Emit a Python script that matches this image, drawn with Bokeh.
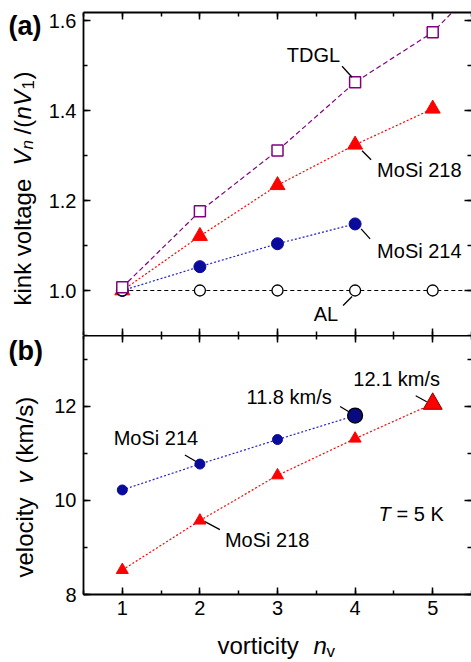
import math
from bokeh.plotting import figure
from bokeh.layouts import column, row
from bokeh.models import (Range1d, LinearAxis, SingleIntervalTicker, PrintfTickFormatter,
                          CustomJSTickFormatter, Label)
from bokeh.embed import file_html
from bokeh.resources import INLINE

FONT = "Liberation Sans"

# ---------------- data ----------------
x_ticks = [1, 2, 3, 4, 5]

tdgl_n = [1, 2, 3, 4, 5, 6]
tdgl_kink = [1.007, 1.176, 1.311, 1.463, 1.574, 1.75]

al_n = [1, 2, 3, 4, 5, 6]
al_kink = [1.0, 1.0, 1.0, 1.0, 1.0, 1.0]

mosi218_n = [1, 2, 3, 4, 5]
mosi218_kink = [1.0, 1.121, 1.234, 1.324, 1.404]

mosi214_n = [1, 2, 3, 4]
mosi214_kink = [1.0, 1.053, 1.104, 1.148]

vel214_n = [1, 2, 3, 4]
vel214 = [10.22, 10.77, 11.29, 11.8]

vel218_n = [1, 2, 3, 4, 5]
vel218 = [8.52, 9.57, 10.53, 11.31, 12.05]

# ---------------- geometry (page pixels) ----------------
TOTAL_W, TOTAL_H = 471, 662
LS = 45                    # left strip holding (a)/(b) and y titles
W = TOTAL_W - LS           # main panels width
LB = 38                    # main panels left border (tick labels)
FW = W - LB
H_A, TOP_A = 335, 12
FH_A = H_A - TOP_A
STRIP_H = 34               # bottom strip with x title
H_B = TOTAL_H - H_A - STRIP_H
FH_B = 259
BOT_B = H_B - FH_B
X0, X1 = 0.5, 5.5
YA0, YA1 = 0.9, 1.618
YB0, YB1 = 8.0, 13.5
XU = FW / (X1 - X0)
YAU = FH_A / (YA1 - YA0)
YBU = FH_B / (YB1 - YB0)
FL = LS + LB               # page x of frame left

PURPLE = "#800080"
RED = "#ff0000"
BLUE_M = "#0a0a9c"
BLUE_L = "#2020d0"


def px_x(px):
    return X0 + (px - FL) / XU


def px_yb(py):
    return YB1 - (py - H_A) / YBU


def style_axis(ax, labels=True, line=True):
    ax.axis_line_width = 1.8
    ax.axis_line_color = "black" if line else None
    ax.major_tick_in = 7
    ax.major_tick_out = 0
    ax.minor_tick_in = 4
    ax.minor_tick_out = 0
    ax.major_tick_line_width = 1.5
    ax.minor_tick_line_width = 1.5
    ax.major_tick_line_color = "black"
    ax.minor_tick_line_color = "black"
    ax.major_label_text_font = FONT
    ax.major_label_text_color = "black"
    if labels:
        ax.major_label_text_font_size = "20px"
    else:
        ax.formatter = CustomJSTickFormatter(code="return ''")
        ax.major_label_text_font_size = "1px"
        ax.major_label_standoff = 0


def make_fig(height, yr, top, bottom):
    p = figure(width=W, height=height, x_range=Range1d(X0, X1), y_range=Range1d(*yr),
               output_backend="svg", toolbar_location=None,
               x_axis_location=None, y_axis_location=None,
               min_border_left=LB, min_border_right=0, min_border_top=top,
               min_border_bottom=bottom)
    p.outline_line_color = None
    p.background_fill_color = "white"
    p.border_fill_color = "white"
    p.grid.visible = False
    return p


def make_strip(x0, x1, y0, y1, border_left=0):
    """Blank figure whose frame data coordinates are page pixels (y downward)."""
    p = figure(width=x1 - x0, height=y1 - y0, x_range=Range1d(x0 + border_left, x1),
               y_range=Range1d(y1, y0),
               output_backend="svg", toolbar_location=None,
               x_axis_location=None, y_axis_location=None,
               min_border_left=border_left, min_border_right=0, min_border_top=0,
               min_border_bottom=0)
    p.outline_line_color = None
    p.background_fill_color = "white"
    p.border_fill_color = "white"
    p.grid.visible = False
    return p


def lab(p, x, y, text, size=20, style="normal", align="left", baseline="middle", angle=0.0):
    p.add_layout(Label(x=x, y=y, text=text, text_font=FONT, text_font_size=f"{size}px",
                       text_font_style=style, text_align=align, text_baseline=baseline,
                       angle=angle, text_color="black"))


# ================= panel (a) =================
pa = make_fig(H_A, (YA0, YA1), TOP_A, 0)
for loc, labels, line in (("left", True, True), ("right", False, False),
                          ("above", False, True), ("below", False, False)):
    if loc in ("left", "right"):
        ax = LinearAxis(ticker=SingleIntervalTicker(interval=0.2, num_minor_ticks=2),
                        formatter=PrintfTickFormatter(format="%.1f"))
    else:
        ax = LinearAxis(ticker=SingleIntervalTicker(interval=1, num_minor_ticks=2),
                        formatter=PrintfTickFormatter(format="%d"))
    style_axis(ax, labels, line)
    if loc == "left":
        ax.major_label_standoff = 7
    pa.add_layout(ax, loc)

pa.line(al_n, al_kink, line_color="black", line_width=1.1, line_dash="4 3")
pa.line(tdgl_n, tdgl_kink, line_color=PURPLE, line_width=1.2, line_dash="5 3")
pa.line(mosi218_n, mosi218_kink, line_color=RED, line_width=1.2, line_dash="2 2")
pa.line(mosi214_n, mosi214_kink, line_color=BLUE_L, line_width=1.2, line_dash="2 2")

pa.scatter(mosi218_n, mosi218_kink, marker="triangle", size=15, fill_color=RED, line_color=RED)
pa.scatter(mosi214_n, mosi214_kink, marker="circle", size=12, fill_color=BLUE_M, line_color=BLUE_M)
pa.scatter(al_n, al_kink, marker="circle", size=11, fill_color="white", line_color="black", line_width=1.3)
pa.scatter(tdgl_n, tdgl_kink, marker="square", size=11, fill_color="white", line_color=PURPLE, line_width=1.5)

# leader lines (pixel offsets from the labelled point, y downward)
leaders_a = [
    (tdgl_n[3], tdgl_kink[3], -3, -5, -13, -16),
    (mosi218_n[3], mosi218_kink[3], 7, 6, 16, 15),
    (mosi214_n[3], mosi214_kink[3], 6, 5, 15, 15),
    (al_n[3], al_kink[3], -3, 6, -12, 15),
]
pa.segment(x0=[x + a / XU for x, y, a, b, c, d in leaders_a],
           y0=[y - b / YAU for x, y, a, b, c, d in leaders_a],
           x1=[x + c / XU for x, y, a, b, c, d in leaders_a],
           y1=[y - d / YAU for x, y, a, b, c, d in leaders_a],
           line_color="black", line_width=1.3)

lab(pa, tdgl_n[3] - 15 / XU, tdgl_kink[3] + 27 / YAU, "TDGL", align="right")
lab(pa, mosi218_n[3] + 22 / XU, mosi218_kink[3] - 25 / YAU, "MoSi 218")
lab(pa, mosi214_n[3] + 22 / XU, mosi214_kink[3] - 27 / YAU, "MoSi 214")
lab(pa, al_n[3] - 17 / XU, al_kink[3] - 23 / YAU, "AL", align="right")

# ================= panel (b) =================
pb = make_fig(H_B, (YB0, YB1), 0, BOT_B)
for loc, labels, line in (("left", True, True), ("right", False, False),
                          ("above", False, True), ("below", True, True)):
    if loc in ("left", "right"):
        ax = LinearAxis(ticker=SingleIntervalTicker(interval=2, num_minor_ticks=2),
                        formatter=PrintfTickFormatter(format="%d"))
    else:
        ax = LinearAxis(ticker=SingleIntervalTicker(interval=1, num_minor_ticks=2),
                        formatter=PrintfTickFormatter(format="%d"))
    style_axis(ax, labels, line)
    if loc == "left":
        ax.major_label_standoff = 7
    if loc == "below":
        ax.major_label_standoff = 6
    pb.add_layout(ax, loc)

pb.line(vel214_n, vel214, line_color=BLUE_L, line_width=1.2, line_dash="2 2")
pb.line(vel218_n, vel218, line_color=RED, line_width=1.2, line_dash="2 2")

leaders_b = [
    (vel218_n[4], vel218[4], -6, -2, -17, -8),
    (vel214_n[3], vel214[3], -5, -3, -15, -9),
    (vel214_n[1], vel214[1], -3, -2, -15, -9),
    (vel218_n[1], vel218[1], 5, 1, 20, 9),
]
pb.segment(x0=[x + a / XU for x, y, a, b, c, d in leaders_b],
           y0=[y - b / YBU for x, y, a, b, c, d in leaders_b],
           x1=[x + c / XU for x, y, a, b, c, d in leaders_b],
           y1=[y - d / YBU for x, y, a, b, c, d in leaders_b],
           line_color="black", line_width=1.3)

pb.scatter(vel214_n[:3], vel214[:3], marker="circle", size=10, fill_color=BLUE_M, line_color=BLUE_M)
pb.scatter(vel218_n[:4], vel218[:4], marker="triangle", size=12, fill_color=RED, line_color=RED)
pb.scatter([vel214_n[3]], [vel214[3]], marker="circle", size=15, fill_color="#0a0a80", line_color="black", line_width=1.2)
pb.scatter([vel218_n[4]], [vel218[4]], marker="triangle", size=19, fill_color=RED, line_color="#8a0000", line_width=1.0)

lab(pb, vel218_n[4] - 36 / XU, vel218[4] + 25 / YBU, "12.1 km/s", align="center")
lab(pb, vel214_n[3] - 66 / XU, vel214[3] + 19 / YBU, "11.8 km/s", align="center")
lab(pb, vel214_n[1] - 44 / XU, vel214[1] + 26 / YBU, "MoSi 214", align="center")
lab(pb, vel218_n[1] + 25 / XU, vel218[1] - 19 / YBU, "MoSi 218")

lab(pb, px_x(378), px_yb(513), "T", style="italic")
lab(pb, px_x(396), px_yb(513), "= 5 K")

# ================= text strips (page-pixel coordinates) =================
R = math.pi / 2
sa = make_strip(0, LS, 0, H_A)
lab(sa, 8, 25, "(a)", size=27, style="bold")
lab(sa, 22, 305, "kink voltage", size=24, angle=R)
lab(sa, 22, 165, "V", size=24, style="italic", angle=R)
lab(sa, 27, 149, "n", size=17, style="italic", angle=R)
lab(sa, 22, 134, "/(", size=24, angle=R)
lab(sa, 22, 119, "n", size=24, style="italic", angle=R)
lab(sa, 22, 105.5, "V", size=24, style="italic", angle=R)
lab(sa, 27, 89, "1", size=17, angle=R)
lab(sa, 22, 79, ")", size=24, angle=R)

sb = make_strip(0, LS, H_A, TOTAL_H)
lab(sb, 8, 350, "(b)", size=27, style="bold")
lab(sb, 23.5, 577, "velocity", size=24, angle=R)
lab(sb, 23.5, 483, "v", size=24, style="italic", angle=R)
lab(sb, 23.5, 463, "(km/s)", size=24, angle=R)

# bottom strip: same left border as the panels so its frame lines up with theirs
sx = make_strip(LS, TOTAL_W, H_A + H_B, TOTAL_H, border_left=LB)
lab(sx, 217, 644.5, "vorticity", size=24)
lab(sx, 313, 644.5, "n", size=24, style="italic")
lab(sx, 326, 651, "v", size=17)

layout = row(column(sa, sb, spacing=0), column(pa, pb, sx, spacing=0), spacing=0)
open("out.html", "w").write(file_html(layout, INLINE))
